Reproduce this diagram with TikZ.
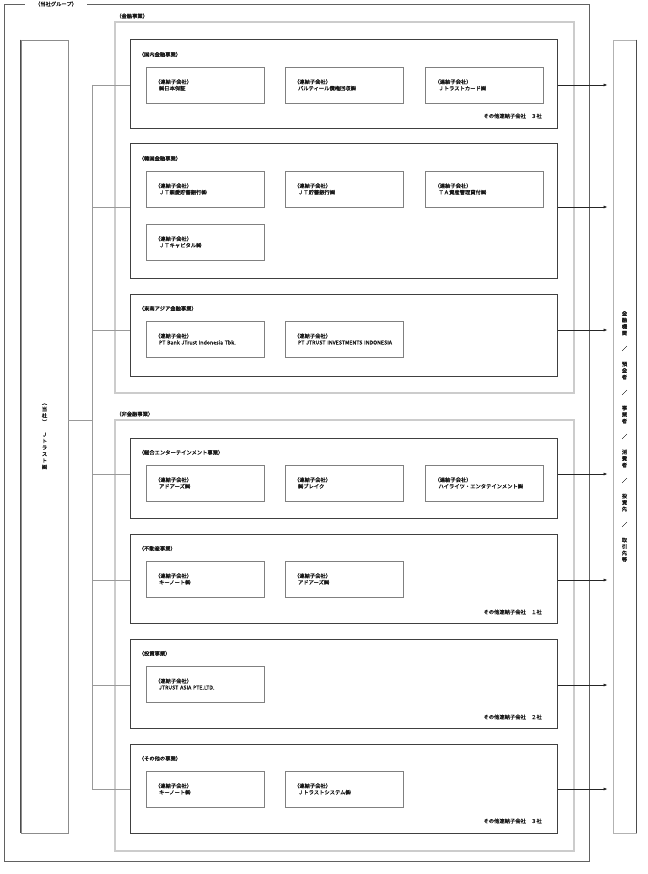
\documentclass[tikz,border=0pt]{standalone}
\usepackage{fontspec}
\setmainfont{Noto Sans CJK JP}[FakeBold=1.2]
\usetikzlibrary{positioning, arrows.meta, calc}

\tikzset{
  grpframe/.style={draw=black!62, line width=0.8pt},
  segframe/.style={draw=black!20, line width=1.2pt},
  bizbox/.style={draw=black!75, line width=1pt, minimum width=427pt, minimum height=#1, inner sep=0pt},
  subbox/.style={draw=black!50, line width=0.7pt, minimum width=118pt, minimum height=36pt,
                 text width=100pt, inner xsep=9pt, align=left},
  lbl/.style={inner sep=0pt, anchor=west},
  trunk/.style={draw=black!40, line width=0.7pt},
  flow/.style={draw=black!85, line width=0.7pt, -{Latex[length=4pt,width=3pt]}, shorten >=5pt},
}

\begin{document}
\begin{tikzpicture}[x=1pt, y=-1pt, font=\fontsize{5.3pt}{6.5pt}\selectfont, text=black!90]
  \useasboundingbox (0,0) rectangle (647,874);

  % Frames
  \draw[grpframe] (4,4) rectangle (589.5,861);
  \node[fill=white, inner xsep=10pt, inner ysep=1pt] (grp) at (56,4) {（当社グループ）};
  \draw[segframe] (115,22) rectangle (574,393);
  \node[lbl] (finlbl) at (116,16) {（金融事業）};
  \draw[segframe] (115,420) rectangle (574,851);
  \node[lbl] (nonfinlbl) at (116,414) {（非金融事業）};

  % Nodes
  \node[draw=black!45, line width=0.8pt, minimum width=47pt, minimum height=793pt, align=center, inner sep=0pt]
    (jtrust) at (44.5,436.5) {︵\\当\\社\\︶\\[6pt]Ｊ\\ト\\ラ\\ス\\ト\\㈱};
  \draw[black!70, line width=0.8pt] (jtrust.north west) -- (jtrust.south west);
  \node[draw=black!30, line width=0.8pt, minimum width=23pt, minimum height=793pt, align=center, inner sep=0pt]
    (clients) at (624.5,436.5) {金\\融\\機\\関\\[9pt]／\\[9pt]預\\金\\者\\[9pt]／\\[9pt]事\\業\\者\\[9pt]／\\[9pt]消\\費\\者\\[9pt]／\\[9pt]投\\資\\先\\[9pt]／\\[9pt]取\\引\\先\\等};
  \draw[black!70, line width=0.8pt] (clients.north east) -- (clients.south east);

  \node[bizbox=89pt] (dom) at (343.5,84.5) {};
  \node[bizbox=134pt] (kor) at (343.5,211) {};
  \node[bizbox=82pt] (sea) at (343.5,335) {};
  \node[bizbox=80pt] (ent) at (343.5,478) {};
  \node[bizbox=89pt] (re) at (343.5,578.5) {};
  \node[bizbox=89pt] (inv) at (343.5,683.5) {};
  \node[bizbox=89pt] (oth) at (343.5,788.5) {};
  \foreach \b/\t in {dom/国内金融事業, kor/韓国金融事業, sea/東南アジア金融事業, ent/総合エンターテインメント事業,
                     re/不動産事業, inv/投資事業, oth/その他の事業}
    \node[lbl] (\b-lbl) at ([shift={(9pt,-15pt)}]\b.north west) {（\t）};

  \foreach \n/\x/\y/\t in {domA/205/85/㈱日本保証, domB/344/85/パルティール債権回収㈱, domC/484.5/85/Ｊトラストカード㈱,
                           korA/205/189/ＪＴ親愛貯蓄銀行㈱, korB/344/189/ＪＴ貯蓄銀行㈱, korC/484.5/189/ＴＡ資産管理貸付㈱,
                           korD/205/242/ＪＴキャピタル㈱,
                           seaA/205/339/PT Bank JTrust Indonesia Tbk., seaB/344/339/PT JTRUST INVESTMENTS INDONESIA,
                           entA/205/483/アドアーズ㈱, entB/344/483/㈱ブレイク, entC/484.5/483/ハイライツ・エンタテインメント㈱,
                           reA/205/579/キーノート㈱, reB/344/579/アドアーズ㈱,
                           invA/205/684/JTRUST ASIA PTE.LTD.,
                           othA/205/789/キーノート㈱, othB/344/789/Ｊトラストシステム㈱}
    \node[subbox] (\n) at (\x,\y) {（連結子会社）\\\hspace*{4pt}\t};

  \foreach \b/\y/\k in {dom/116/３, re/612/１, inv/717/２, oth/821/３}
    \node[lbl, anchor=east] (\b-rest) at (542,\y) {その他連結子会社　\k 社};

  % Arrows
  \coordinate (hub) at (92,420);
  \draw[trunk] (jtrust.east |- hub) -- (hub);
  \foreach \b/\y in {dom/85, kor/207, sea/330, ent/474, re/580, inv/685, oth/789}{
    \coordinate (\b-in) at (92,\y);
    \draw[trunk] (\b-in) -- (\b.west |- \b-in);
    \draw[flow] (\b.east |- \b-in) -- (clients.west |- \b-in);
  }
  \draw[trunk] (dom-in) -- (oth-in);
\end{tikzpicture}
\end{document}
